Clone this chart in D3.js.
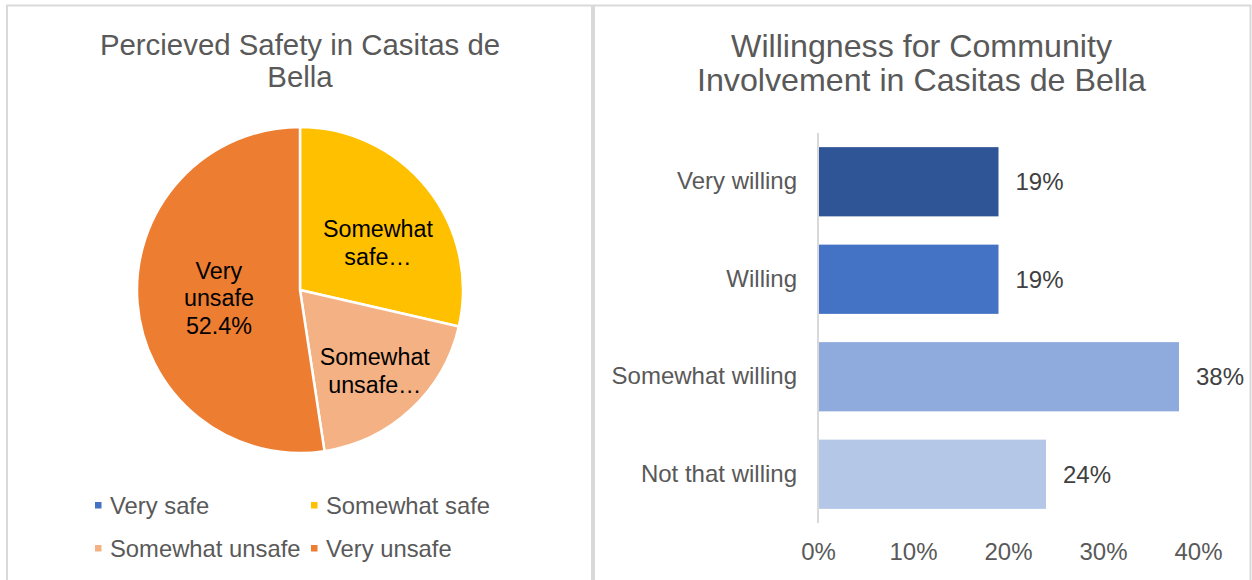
<!DOCTYPE html>
<html>
<head>
<meta charset="utf-8">
<script src="https://cdn.jsdelivr.net/npm/d3@7"></script>
<style>
  html, body { margin: 0; padding: 0; background: #ffffff; }
  svg { display: block; font-family: "Liberation Sans", Arial, Helvetica, sans-serif; }
</style>
</head>
<body>
<svg id="chart" width="1252" height="580"></svg>
<script>
// Perceived safety (share of respondents, %)
const safetyCategories = ["Very safe", "Somewhat safe", "Somewhat unsafe", "Very unsafe"];
const safetyValues = [0, 28.6, 19.0, 52.4];
const safetyLabels = [[], ["Somewhat", "safe…"], ["Somewhat", "unsafe…"], ["Very", "unsafe", "52.4%"]];
const safetyColors = ["#4472C4", "#FFC000", "#F4B183", "#ED7D31"];

// Willingness for community involvement (share of respondents)
const willingCategories = ["Very willing", "Willing", "Somewhat willing", "Not that willing"];
const willingValues = [0.19, 0.19, 0.38, 0.24];
const willingColors = ["#2F5597", "#4472C4", "#8FAADC", "#B4C7E7"];
const xTickValues = [0, 0.1, 0.2, 0.3, 0.4];

const svg = d3.select("#chart");
const border = "#d9d9d9";
const textSize = 24;

// Panel frames
svg.append("rect").attr("x", 7).attr("y", 5.5).attr("width", 585).attr("height", 620)
  .attr("fill", "none").attr("stroke", border).attr("stroke-width", 2);
svg.append("rect").attr("x", 594).attr("y", 5.5).attr("width", 656.5).attr("height", 620)
  .attr("fill", "none").attr("stroke", border).attr("stroke-width", 2);

// ---------- Pie chart ----------
const left = svg.append("g");
const leftTitle = left.append("text").attr("text-anchor", "middle")
  .attr("fill", "#595959").attr("font-size", 29.4);
[["Percieved Safety in Casitas de", 54.5], ["Bella", 86.5]].forEach(([t, y]) =>
  leftTitle.append("tspan").attr("x", 300).attr("y", y).text(t));

const cx = 300, cy = 290, R = 163;
const pie = d3.pie().sort(null).value(d => d.value);
const arcs = pie(safetyCategories.map((c, i) => ({ cat: c, value: safetyValues[i], label: safetyLabels[i], color: safetyColors[i] })));
const arc = d3.arc().innerRadius(0).outerRadius(R);

const pieG = left.append("g").attr("transform", `translate(${cx},${cy})`);
pieG.selectAll("path").data(arcs.filter(a => a.value > 0)).join("path")
  .attr("d", arc)
  .attr("fill", d => d.data.color)
  .attr("stroke", "#ffffff").attr("stroke-width", 2.5).attr("stroke-linejoin", "round");

// Label placement inside each slice: [fraction along slice angle, fraction of radius]
const labelPlace = { "Somewhat safe": [0.57, 0.56], "Somewhat unsafe": [0.5, 0.675], "Very unsafe": [0.4926, 0.5] };
const lineH = 27.5;
arcs.filter(a => a.value > 0).forEach(a => {
  const [fa, fr] = labelPlace[a.data.cat] || [0.5, 0.6];
  const ang = a.startAngle + (a.endAngle - a.startAngle) * fa;
  const lx = Math.sin(ang) * R * fr, ly = -Math.cos(ang) * R * fr;
  const lines = a.data.label;
  const t = pieG.append("text").attr("text-anchor", "middle").attr("fill", "#000000")
    .attr("font-size", 23.3);
  lines.forEach((s, i) => {
    t.append("tspan").attr("x", lx)
      .attr("y", ly + (i - (lines.length - 1) / 2) * lineH + 8.3)
      .text(s);
  });
});

// Legend
const legend = left.append("g");
const legPos = [[95, 505], [311, 505], [95, 548], [311, 548]];
safetyCategories.forEach((c, i) => {
  const [lx, ly] = legPos[i];
  legend.append("rect").attr("x", lx).attr("y", ly - 3).attr("width", 6.5).attr("height", 6.5)
    .attr("fill", safetyColors[i]);
  legend.append("text").attr("x", lx + 15).attr("y", ly + 8.5)
    .attr("fill", "#595959").attr("font-size", 23.8).text(c);
});

// ---------- Bar chart ----------
const right = svg.append("g");
const rightTitle = right.append("text").attr("text-anchor", "middle")
  .attr("fill", "#595959").attr("font-size", 32.2);
[["Willingness for Community", 57], ["Involvement in Casitas de Bella", 91]].forEach(([t, y]) =>
  rightTitle.append("tspan").attr("x", 921.5).attr("y", y).text(t));

const x = d3.scaleLinear().domain([0, 0.4]).range([818, 1198]);
const y = d3.scaleBand().domain(willingCategories).range([133, 523])
  .paddingInner(0.29).paddingOuter(0.145);

right.selectAll("rect.bar").data(willingCategories).join("rect")
  .attr("class", "bar")
  .attr("x", x(0))
  .attr("y", d => y(d))
  .attr("width", (d, i) => x(willingValues[i]) - x(0))
  .attr("height", y.bandwidth())
  .attr("fill", (d, i) => willingColors[i]);

// Vertical category axis
const yAxis = right.append("g").attr("transform", `translate(${x(0)},0)`)
  .call(d3.axisLeft(y).tickSize(0).tickPadding(21));
yAxis.select(".domain").attr("stroke", border).attr("stroke-width", 2)
  .attr("d", "M0,133V523");
yAxis.selectAll("text").attr("fill", "#595959").attr("font-size", textSize)
  .attr("font-family", "Liberation Sans, Arial, sans-serif");

// Horizontal value axis (labels only)
const xAxis = right.append("g").attr("transform", "translate(0,535)")
  .call(d3.axisBottom(x).tickValues(xTickValues).tickFormat(d3.format(".0%")).tickSize(0).tickPadding(8));
xAxis.select(".domain").remove();
xAxis.selectAll("text").attr("fill", "#595959").attr("font-size", textSize)
  .attr("font-family", "Liberation Sans, Arial, sans-serif");

// Value labels
right.selectAll("text.val").data(willingCategories).join("text")
  .attr("class", "val")
  .attr("x", (d, i) => x(willingValues[i]) + 17)
  .attr("y", d => y(d) + y.bandwidth() / 2 + 8.5)
  .attr("fill", "#404040").attr("font-size", textSize)
  .text((d, i) => d3.format(".0%")(willingValues[i]));
</script>
</body>
</html>
